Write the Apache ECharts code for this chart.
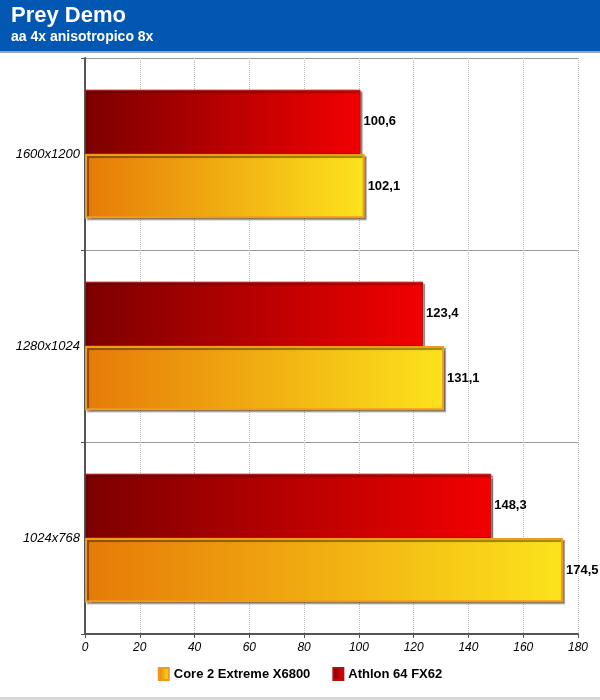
<!DOCTYPE html>
<html><head><meta charset="utf-8">
<script src="https://cdn.jsdelivr.net/npm/echarts@6/dist/echarts.min.js"></script>
<style>html,body{margin:0;padding:0;background:#fff}#c{width:600px;height:700px}</style>
</head><body><div id="c"></div>
<script>
const categories = ['1024x768', '1280x1024', '1600x1200'];
const core2Values = [174.5, 131.1, 102.1];
const athlonValues = [148.3, 123.4, 100.6];
const xTicks = { min: 0, max: 180, interval: 20 };

const F = 'Liberation Sans, Arial, sans-serif';
const fmt = p => String(p.value).replace('.', ',');
const chart = echarts.init(document.getElementById('c'));
chart.setOption({
  animation: false,
  textStyle: { fontFamily: F },
  graphic: [
    { type: 'rect', shape: { x: 0, y: 0, width: 600, height: 51 }, style: { fill: '#0157b1' }, z: 0 },
    { type: 'rect', shape: { x: 0, y: 51, width: 600, height: 2 }, style: { fill: '#9aa4b0' }, z: 0 },
    { type: 'rect', shape: { x: 0, y: 697, width: 600, height: 3 }, style: { fill: '#d8d8d8' }, z: 0 },
    { type: 'text', left: 11, top: 5, style: { text: 'Prey Demo', fill: '#fff', font: 'bold 22px ' + F }, z: 10 },
    { type: 'text', left: 11, top: 30, style: { text: 'aa 4x anisotropico 8x', fill: '#fff', font: 'bold 14px ' + F }, z: 10 }
  ],
  legend: {
    bottom: 14, left: 'center', itemWidth: 10, itemHeight: 12, itemGap: 22, icon: 'rect',
    textStyle: { fontFamily: F, fontWeight: 'bold', fontSize: 13, color: '#000' },
    data: ['Core 2 Extreme X6800', 'Athlon 64 FX62']
  },
  grid: { left: 85, right: 22, top: 58, bottom: 66 },
  xAxis: {
    type: 'value', min: xTicks.min, max: xTicks.max, interval: xTicks.interval,
    axisLine: { show: true, lineStyle: { color: '#555', width: 2 } },
    axisTick: { show: true, length: 4, lineStyle: { color: '#555' } },
    axisLabel: { fontStyle: 'italic', color: '#000', fontSize: 12, fontFamily: F },
    splitLine: { show: true, lineStyle: { type: 'dotted', color: '#bbb' } }
  },
  yAxis: {
    type: 'category', data: categories,
    axisLine: { show: true, lineStyle: { color: '#555', width: 2 } },
    axisTick: { show: true, length: 4, lineStyle: { color: '#555' } },
    axisLabel: { fontStyle: 'italic', color: '#000', fontSize: 13, fontFamily: F, margin: 5 },
    splitLine: { show: true, lineStyle: { color: '#999', width: 1 } }
  },
  series: [
    {
      name: 'Athlon 64 FX62', type: 'bar', data: athlonValues, barGap: '0%', barCategoryGap: '33%',
      itemStyle: {
        color: new echarts.graphic.LinearGradient(0, 0, 1, 0, [{ offset: 0, color: '#7d0000' }, { offset: 1, color: '#f20000' }]),
        borderColor: '#b01010', borderWidth: 1, shadowColor: 'rgba(0,0,0,0.4)', shadowOffsetX: 2, shadowOffsetY: 2, shadowBlur: 1
      },
      label: { show: true, position: 'right', formatter: fmt, color: '#000', fontWeight: 'bold', fontSize: 13, fontFamily: F, distance: 3 }
    },
    {
      name: 'Core 2 Extreme X6800', type: 'bar', data: core2Values,
      itemStyle: {
        color: new echarts.graphic.LinearGradient(0, 0, 1, 0, [{ offset: 0, color: '#e67a08' }, { offset: 1, color: '#fce31c' }]),
        borderColor: '#f29a1c', borderWidth: 2, shadowColor: 'rgba(0,0,0,0.4)', shadowOffsetX: 2, shadowOffsetY: 2, shadowBlur: 1
      },
      label: { show: true, position: 'right', formatter: fmt, color: '#000', fontWeight: 'bold', fontSize: 13, fontFamily: F, distance: 3 }
    }
  ]
});
</script></body></html>
